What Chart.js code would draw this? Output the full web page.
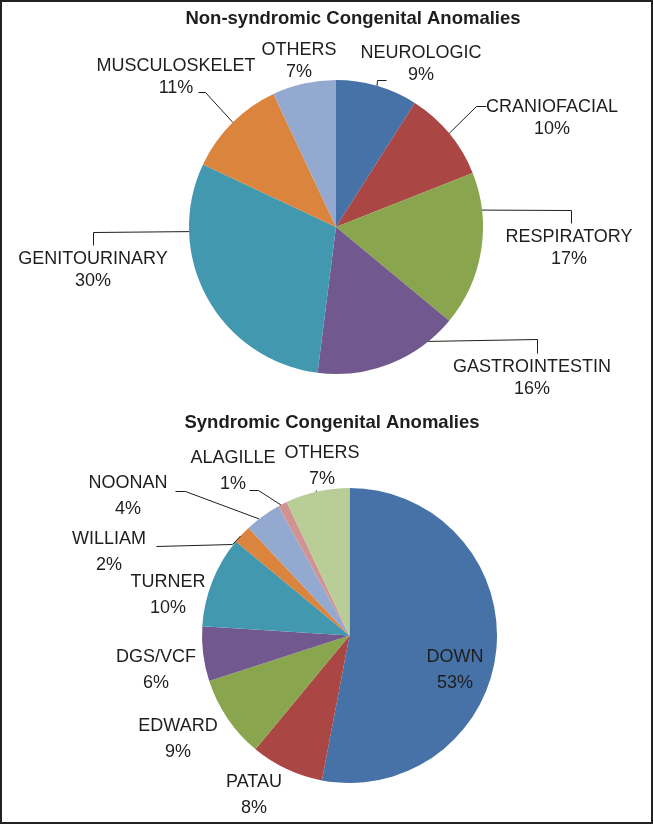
<!DOCTYPE html>
<html>
<head>
<meta charset="utf-8">
<script src="https://cdn.jsdelivr.net/npm/chart.js@4.4.0/dist/chart.umd.min.js"></script>
<style>
  html, body { margin: 0; padding: 0; background: #fff; }
  #page { position: relative; width: 653px; height: 824px; overflow: hidden; }
  #page canvas { position: absolute; left: 0; }
  #frame {
    position: absolute; left: 0; top: 0; width: 653px; height: 824px;
    box-sizing: border-box; border: 2px solid #222; pointer-events: none;
  }
</style>
</head>
<body>
<div id="page">
  <canvas id="topPie" width="653" height="412" style="top:0"></canvas>
  <canvas id="bottomPie" width="653" height="412" style="top:412px"></canvas>
  <div id="frame"></div>
</div>
<script>
// ---- data ----
const topTitle = 'Non-syndromic Congenital Anomalies';
const topCategories = ['NEUROLOGIC', 'CRANIOFACIAL', 'RESPIRATORY', 'GASTROINTESTIN', 'GENITOURINARY', 'MUSCULOSKELET', 'OTHERS'];
const topValues = [9, 10, 17, 16, 30, 11, 7];

const bottomTitle = 'Syndromic Congenital Anomalies';
const bottomCategories = ['DOWN', 'PATAU', 'EDWARD', 'DGS/VCF', 'TURNER', 'WILLIAM', 'NOONAN', 'ALAGILLE', 'OTHERS'];
const bottomValues = [53, 8, 9, 6, 10, 2, 4, 1, 7];

// Excel-style palette
const topColors = ['#4672a8', '#aa4643', '#89a54e', '#71588f', '#4198af', '#db843d', '#93a9cf'];
const bottomColors = ['#4672a8', '#aa4643', '#89a54e', '#71588f', '#4198af', '#db843d', '#93a9cf', '#d19392', '#b9cd96'];

// ---- label layout (page coordinates); leader starts on the slice arc at fraction t ----
const topLayout = [
  { x: 421, y: 53, leader: { t: 0.5, pts: [[377, 80], [386, 80]] } },
  { x: 552, y: 107, leader: { t: 0.5, pts: [[476, 106], [486, 106]] } },
  { x: 569, y: 237, leader: { t: 0.245, pts: [[571, 210], [571, 223]] } },
  { x: 532, y: 367, leader: { t: 0.2, pts: [[537, 339], [537, 353]] } },
  { x: 93, y: 259, leader: { t: 0.75, pts: [[93, 232], [93, 245]] } },
  { x: 176, y: 66, leader: { t: 0.51, pts: [[205, 92], [198, 92]] } },
  { x: 299, y: 50 },
];
const bottomLayout = [
  { x: 455, y: 657 },
  { x: 254, y: 782 },
  { x: 178, y: 726 },
  { x: 156, y: 657 },
  { x: 168, y: 582 },
  { x: 109, y: 539, leader: { t: 0.4, pts: [[232, 544], [156, 546]] } },
  { x: 128, y: 483, leader: { t: 0.375, pts: [[185, 491], [175, 491]] } },
  { x: 233, y: 458, leader: { t: 0.3, pts: [[258, 490], [249, 490]] } },
  { x: 322, y: 453, leader: { t: 0.48, pts: [[316, 490]] } },
];

const LABEL_FONT = "18px 'Liberation Sans', Arial, sans-serif";
const TITLE_FONT = "bold 18.5px 'Liberation Sans', Arial, sans-serif";
const TEXT_COLOR = '#1e1e1e';

// Draws title, data labels and leader lines after the pie
const pieLabels = {
  id: 'pieLabels',
  afterDraw(chart, args, opts) {
    const ctx = chart.ctx;
    const off = opts.offsetY;
    const meta = chart.getDatasetMeta(0);
    const values = chart.data.datasets[0].data;
    ctx.save();
    ctx.fillStyle = TEXT_COLOR;
    ctx.textAlign = 'center';
    ctx.textBaseline = 'middle';
    ctx.font = TITLE_FONT;
    ctx.fillText(opts.title, opts.titleX, opts.titleY - off);

    ctx.font = LABEL_FONT;
    ctx.strokeStyle = '#1e1e1e';
    ctx.lineWidth = 1;
    meta.data.forEach((arc, i) => {
      const lay = opts.layout[i];
      if (!lay) return;
      ctx.fillText(chart.data.labels[i], lay.x, lay.y - off);
      ctx.fillText(values[i] + '%', lay.x, lay.y + opts.lineGap - off);
      if (lay.leader) {
        const a = arc.startAngle + (arc.endAngle - arc.startAngle) * lay.leader.t;
        const sx = arc.x + arc.outerRadius * Math.cos(a);
        const sy = arc.y + arc.outerRadius * Math.sin(a);
        ctx.beginPath();
        ctx.moveTo(sx, sy);
        lay.leader.pts.forEach((p) => ctx.lineTo(p[0] + 0.5, p[1] - off + 0.5));
        ctx.stroke();
      }
    });
    ctx.restore();
  },
};

function makePie(id, categories, values, colors, padding, labelOpts) {
  return new Chart(document.getElementById(id), {
    type: 'pie',
    data: {
      labels: categories,
      datasets: [{ data: values, backgroundColor: colors, borderWidth: 0 }],
    },
    options: {
      responsive: false,
      animation: false,
      layout: { padding },
      plugins: {
        legend: { display: false },
        tooltip: { enabled: false },
        pieLabels: labelOpts,
      },
    },
    plugins: [pieLabels],
  });
}

makePie('topPie', topCategories, topValues, topColors,
  { left: 189, right: 170, top: 80, bottom: 38 },
  { offsetY: 0, title: topTitle, titleX: 353, titleY: 19, lineGap: 22, layout: topLayout });

makePie('bottomPie', bottomCategories, bottomValues, bottomColors,
  { left: 202, right: 156, top: 76, bottom: 41 },
  { offsetY: 412, title: bottomTitle, titleX: 332, titleY: 423, lineGap: 26, layout: bottomLayout });
</script>
</body>
</html>
